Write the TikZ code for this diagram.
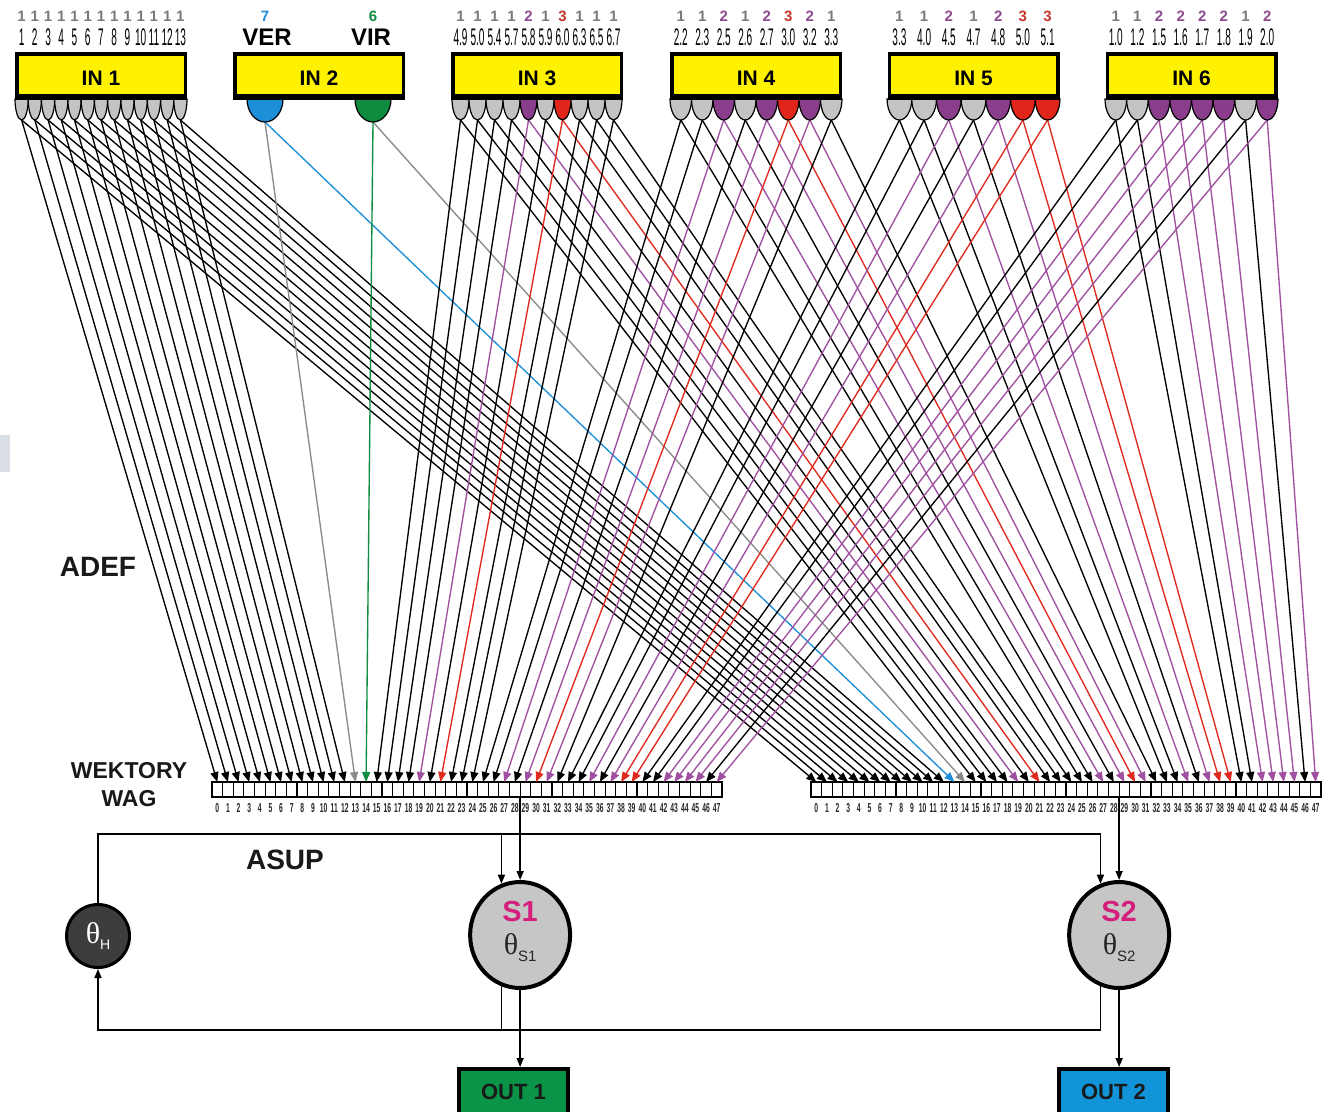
\documentclass[tikz,border=0pt]{standalone}
\usepackage{fontspec}
\setmainfont{Liberation Sans}
\newfontfamily\numfont[FakeStretch=0.42]{Liberation Sans}
\newfontfamily\cellfont[FakeStretch=0.52]{Liberation Sans}
\newfontfamily\thfont{Liberation Serif}
\usetikzlibrary{arrows.meta,shapes.geometric}

\definecolor{inyellow}{HTML}{FFF200}
\definecolor{tapgray}{HTML}{C3C3C3}
\definecolor{tappurple}{HTML}{8A3D8A}
\definecolor{tapred}{HTML}{E1251B}
\definecolor{verblue}{HTML}{1C8FD8}
\definecolor{virgreen}{HTML}{0F8C40}
\definecolor{linepurple}{HTML}{A050A0}
\definecolor{linered}{HTML}{E02A1E}
\definecolor{linegray}{HTML}{8A8A8A}
\definecolor{numgray}{HTML}{7A7A7A}
\definecolor{numpurple}{HTML}{8E4A8E}
\definecolor{numred}{HTML}{C4352B}
\definecolor{s1mag}{HTML}{D4207C}
\definecolor{thdark}{HTML}{3D3D3D}
\definecolor{sgray}{HTML}{C6C6C6}
\definecolor{outgreen}{HTML}{0A9447}
\definecolor{outblue}{HTML}{1195D8}
\definecolor{artgray}{HTML}{D9DEE4}

\colorlet{tapc1}{tapgray}\colorlet{tapc2}{tappurple}\colorlet{tapc3}{tapred}
\colorlet{tapc7}{verblue}\colorlet{tapc6}{virgreen}
\colorlet{lnL1}{black}\colorlet{lnL2}{linepurple}\colorlet{lnL3}{linered}
\colorlet{lnL7}{linegray}\colorlet{lnL6}{virgreen}
\colorlet{lnR1}{black}\colorlet{lnR2}{linepurple}\colorlet{lnR3}{linered}
\colorlet{lnR7}{verblue}\colorlet{lnR6}{linegray}
\colorlet{valc1}{numgray}\colorlet{valc2}{numpurple}\colorlet{valc3}{numred}
\colorlet{valc7}{verblue}\colorlet{valc6}{virgreen}

\def\tapdata{%
21.6/1/13.2/20/1,34.8/1/13.2/20/2,48.1/1/13.2/20/3,61.3/1/13.2/20/4,74.5/1/13.2/20/5,87.8/1/13.2/20/6,101.0/1/13.2/20/7,114.2/1/13.2/20/8,127.5/1/13.2/20/9,140.7/1/13.2/20/10,153.9/1/13.2/20/11,167.2/1/13.2/20/12,180.4/1/13.2/20/13,%
265/7/36/22/-,373/6/36/22/-,%
460.5/1/17/20/4.9,477.5/1/17/20/5.0,494.5/1/17/20/5.4,511.5/1/17/20/5.7,528.5/2/17/20/5.8,545.5/1/17/20/5.9,562.5/3/17/20/6.0,579.5/1/17/20/6.3,596.5/1/17/20/6.5,613.5/1/17/20/6.7,%
680.75/1/21.5/20/2.2,702.25/1/21.5/20/2.3,723.75/2/21.5/20/2.5,745.25/1/21.5/20/2.6,766.75/2/21.5/20/2.7,788.25/3/21.5/20/3.0,809.75/2/21.5/20/3.2,831.25/1/21.5/20/3.3,%
899.4/1/24.7/20/3.3,924.1/1/24.7/20/4.0,948.8/2/24.7/20/4.5,973.5/1/24.7/20/4.7,998.2/2/24.7/20/4.8,1022.9/3/24.7/20/5.0,1047.6/3/24.7/20/5.1,%
1115.8/1/21.6/20/1.0,1137.4/1/21.6/20/1.2,1159.1/2/21.6/20/1.5,1180.7/2/21.6/20/1.6,1202.3/2/21.6/20/1.7,1223.9/2/21.6/20/1.8,1245.6/1/21.6/20/1.9,1267.2/2/21.6/20/2.0}

\begin{document}
\begin{tikzpicture}[x=1pt,y=-1pt,
  wire/.style={line width=1.35pt,-{Triangle[length=10pt,width=8pt]}},
  conn/.style={line width=1.5pt},
  arr/.style={-{Triangle[length=9pt,width=7pt]}},
  inbox/.style={draw=black,fill=inyellow,line width=3.5pt,minimum width=168.5pt,minimum height=44.5pt,inner sep=0pt,text height=19pt,font=\bfseries\fontsize{21}{21}\selectfont},
  cell/.style={draw=black,fill=white,line width=1.2pt,minimum width=10.625pt,minimum height=15pt,inner sep=0pt,outer sep=0pt},
  celllab/.style={font=\cellfont\bfseries\fontsize{13}{13}\selectfont,inner sep=0pt,text=black!85},
  vallab/.style={font=\bfseries\fontsize{15}{15}\selectfont,inner sep=0pt},
  numlab/.style={font=\numfont\fontsize{24}{24}\selectfont,inner sep=0pt,text=black},
  biglab/.style={font=\bfseries\fontsize{24}{24}\selectfont,inner sep=0pt},
  sidelab/.style={font=\bfseries\fontsize{23}{23}\selectfont,inner sep=0pt,text=black!90},
  tap/.style={draw=black,line width=1.2pt},
  snode/.style={ellipse,draw=black,fill=sgray,line width=4pt,minimum width=100pt,minimum height=106pt,inner sep=0pt},
  outbox/.style={draw=black,line width=4pt,minimum width=109pt,minimum height=46pt,inner sep=0pt,font=\bfseries\fontsize{22}{22}\selectfont,text=black!90},
]
\useasboundingbox (0,0) rectangle (1332,1111);
\fill[white] (0,0) rectangle (1332,1111);
\fill[artgray] (0,435) rectangle (10,472);

% weight vectors
\foreach \i in {0,...,47}{
  \node[cell] (L\i) at ({212+10.625*(\i+0.5)},789.5) {};
  \node[cell] (R\i) at ({811+10.625*(\i+0.5)},789.5) {};
  \node[celllab] (Ln\i) at ({212+10.625*(\i+0.5)},808) {\i};
  \node[celllab] (Rn\i) at ({811+10.625*(\i+0.5)},808) {\i};
}
\draw[line width=2.6pt] (L0.south west) -- (L47.south east);
\draw[line width=2.6pt] (R0.south west) -- (R47.south east);

% tap coordinates
\foreach \x/\v/\w/\d/\lab [count=\i from 0] in \tapdata {
  \coordinate (t\i) at (\x,{100+\d});
}

% connections
\foreach \x/\v/\w/\d/\lab [count=\i from 0] in \tapdata {
  \draw[wire,color=lnL\v] (t\i) -- (L\i.north);
  \draw[wire,color=lnR\v] (t\i) -- (R\i.north);
}

% taps
\foreach \x/\v/\w/\d/\lab [count=\i from 0] in \tapdata {
  \filldraw[tap,fill=tapc\v] ({\x-\w/2},99) arc[start angle=180,end angle=0,x radius={\w/2},y radius={\d+1}] -- cycle;
}

% input boxes
\foreach \nm/\cx/\txt in {in1/101/IN 1,in2/319/IN 2,in3/537/IN 3,in4/756/IN 4,in5/973.5/IN 5,in6/1191.5/IN 6}{
  \node[inbox] (\nm) at (\cx,76) {\txt};
  \fill (\nm.south west) rectangle ([yshift=6pt]\nm.south east);
}

% labels above
\foreach \x/\v/\w/\d/\lab [count=\i from 0] in \tapdata {
  \node[vallab,text=valc\v] (v\i) at (\x,16) {\v};
  \ifnum\v<5 \node[numlab] (n\i) at (\x,37) {\lab}; \fi
}
\node[biglab] (ver) at (267,37) {VER};
\node[biglab] (vir) at (371,37) {VIR};

% side labels
\node[sidelab,font=\bfseries\fontsize{28}{28}\selectfont] (adef) at (98,567) {ADEF};
\node[sidelab] (wek) at (129,771) {WEKTORY};
\node[sidelab] (wag) at (129,799) {WAG};
\node[sidelab,font=\bfseries\fontsize{28}{28}\selectfont] (asup) at (285,860) {ASUP};

% lower part
\coordinate (busT) at (0,834);
\coordinate (busB) at (0,1030);
\node[circle,draw=black,fill=thdark,line width=3pt,minimum size=63pt,inner sep=0pt,text=white] (thH) at (98,936)
  {{\thfont\fontsize{30}{30}\selectfont θ}\raisebox{-6pt}{\fontsize{14}{14}\selectfont H}};
\node[snode] (s1) at (520.125,935) {};
\node[snode] (s2) at (1119.125,935) {};
\node[font=\bfseries\fontsize{29}{29}\selectfont,text=s1mag,inner sep=0pt] (s1lab) at ([yshift=23pt]s1.center) {S1};
\node[font=\bfseries\fontsize{29}{29}\selectfont,text=s1mag,inner sep=0pt] (s2lab) at ([yshift=23pt]s2.center) {S2};
\node[inner sep=0pt,text=black!85] (s1th) at ([yshift=-13pt]s1.center)
  {{\thfont\fontsize{30}{30}\selectfont θ}\raisebox{-7pt}{\fontsize{15}{15}\selectfont S1}};
\node[inner sep=0pt,text=black!85] (s2th) at ([yshift=-13pt]s2.center)
  {{\thfont\fontsize{30}{30}\selectfont θ}\raisebox{-7pt}{\fontsize{15}{15}\selectfont S2}};
\node[outbox,fill=outgreen] (out1) at (513.5,1092) {OUT 1};
\node[outbox,fill=outblue] (out2) at (1113.5,1092) {OUT 2};

\draw[conn,arr] (thH.north) |- (s2.110 |- busT) -- (s2.110);
\draw[conn,arr] (s1.110 |- busT) -- (s1.110);
\draw[conn,arr] (s2.250) -- (s2.250 |- busB) -| (thH.south);
\draw[conn] (s1.250) -- (s1.250 |- busB);
\draw[conn,arr] (L29.south west) -- (s1.north);
\draw[conn,arr] (R29.south west) -- (s2.north);
\draw[conn,arr] (s1.south) -- (s1.south |- out1.north);
\draw[conn,arr] (s2.south) -- (s2.south |- out2.north);
\end{tikzpicture}
\end{document}
